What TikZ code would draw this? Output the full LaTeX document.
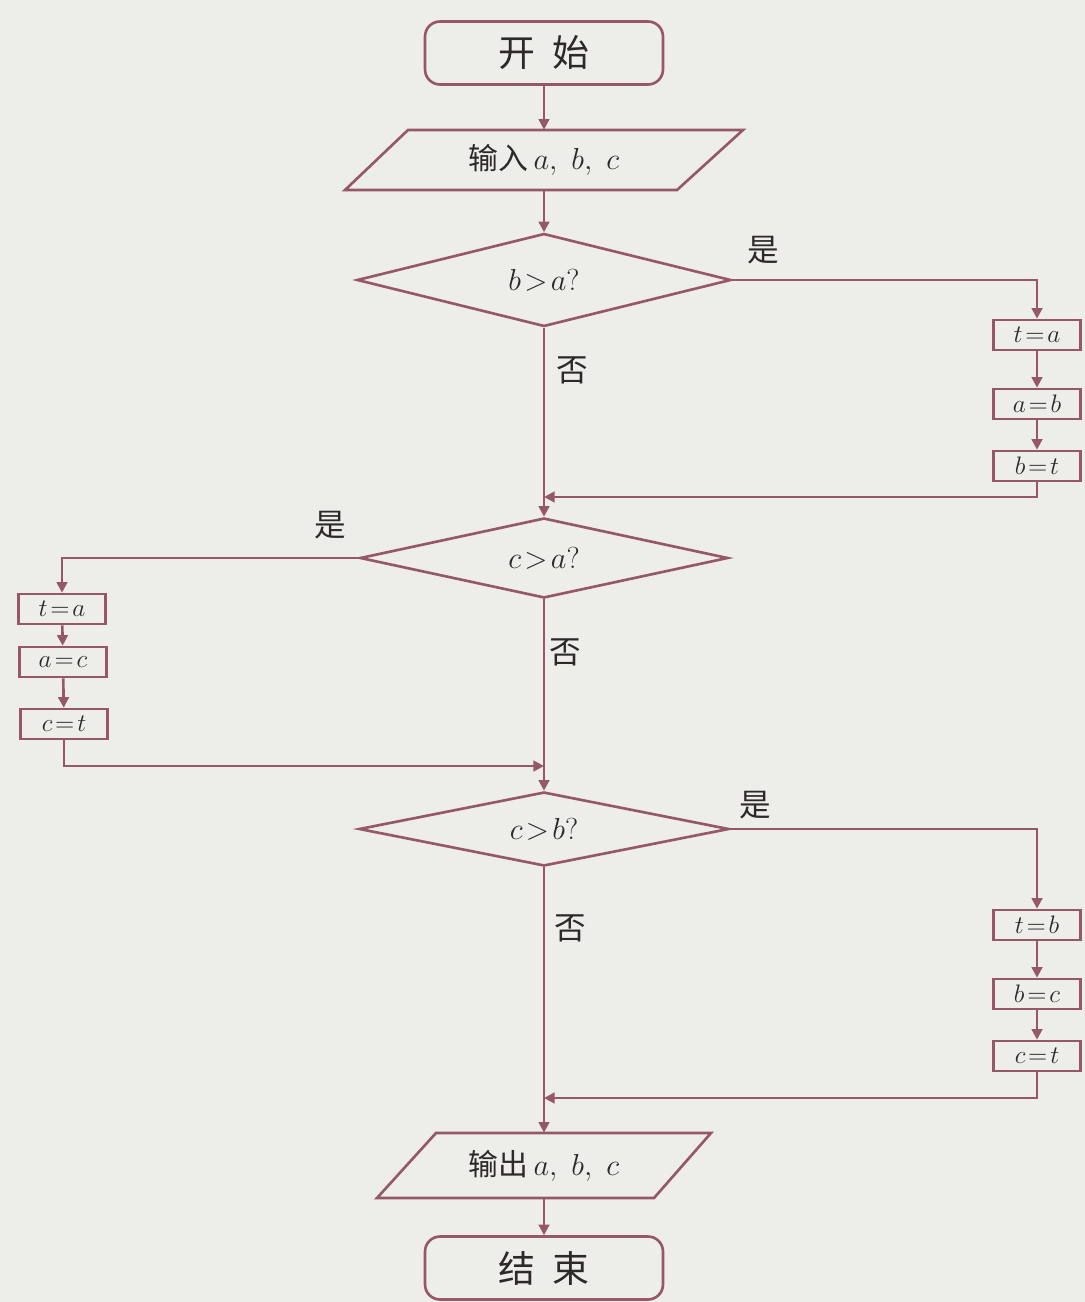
\documentclass[tikz,border=0pt]{standalone}
\usepackage{fontspec}
\newfontfamily\cjk{Noto Sans CJK SC}
\usetikzlibrary{shapes.geometric,arrows.meta}
\definecolor{ln}{RGB}{150,88,104}
\definecolor{bg}{RGB}{237,237,233}
\definecolor{tx}{RGB}{45,40,42}
\begin{document}
\begin{tikzpicture}[x=0.02cm,y=-0.02cm,
  line/.style={draw=ln, line width=1.5pt},
  arr/.style={line, -{Triangle[length=6pt,width=6pt]}},
  term/.style={line, rectangle, rounded corners=0.3cm, minimum width=4.76cm, minimum height=1.26cm, inner sep=0pt, font=\cjk\fontsize{21}{24}\selectfont, text=tx},
  io/.style={rectangle, inner sep=0pt, minimum width=4cm, font=\fontsize{17}{20}\selectfont, text=tx},
  dec/.style={line, diamond, aspect=6, inner sep=0pt, font=\fontsize{16}{18}\selectfont, text=tx},
  asg/.style={line, rectangle, minimum width=1.74cm, minimum height=0.6cm, inner sep=0pt, font=\fontsize{14}{16}\selectfont, text=tx},
  lbl/.style={font=\cjk\fontsize{18}{20}\selectfont, text=tx}
]
\fill[bg] (0,0) rectangle (1085,1302);
\useasboundingbox (0,0) rectangle (1085,1302);

% terminals
\node[term] (start) at (544,53) {开\ \ 始};
\node[term] (end) at (544,1268) {结\ \ 束};

% input / output parallelograms
\draw[line, fill=bg] (408,130) -- (743,130) -- (677,190) -- (345,190) -- cycle;
\node[io, minimum height=1.2cm] (in) at (544,160) {{\cjk 输入}\,$a,\ b,\ c$};
\draw[line, fill=bg] (436,1133) -- (711,1133) -- (654,1198) -- (377,1198) -- cycle;
\node[io, minimum height=1.3cm] (out) at (544,1165.5) {{\cjk 输出}\,$a,\ b,\ c$};

% decisions
\node[dec, minimum width=7.48cm, minimum height=1.86cm] (d1) at (544,280) {$b\!>\!a?$};
\node[dec, minimum width=7.36cm, minimum height=1.6cm] (d2) at (544,558) {$c\!>\!a?$};
\node[dec, minimum width=7.4cm, minimum height=1.48cm] (d3) at (544,829) {$c\!>\!b?$};

% assignment boxes, right column (b>a)
\node[asg] (r1) at (1037,335) {$t\!=\!a$};
\node[asg] (r2) at (1037,404) {$a\!=\!b$};
\node[asg] (r3) at (1037,466) {$b\!=\!t$};
% left column (c>a)
\node[asg] (l1) at (62,609) {$t\!=\!a$};
\node[asg] (l2) at (63,662) {$a\!=\!c$};
\node[asg] (l3) at (64,724) {$c\!=\!t$};
% right column (c>b)
\node[asg] (r4) at (1037,925) {$t\!=\!b$};
\node[asg] (r5) at (1037,994) {$b\!=\!c$};
\node[asg] (r6) at (1037,1056) {$c\!=\!t$};

% junctions
\coordinate (j1) at (544,497);
\coordinate (j2) at (544,766);
\coordinate (j3) at (544,1098);

% main flow
\draw[arr] (start.south) -- (in.north);
\draw[arr] (in.south) -- (d1.north);
\draw[arr] (d1.south) -- (d2.north);
\draw[arr] (d2.south) -- (d3.north);
\draw[arr] (d3.south) -- (out.north);
\draw[arr] (out.south) -- (end.north);

% branch 1
\draw[arr] (d1.east) -| (r1.north);
\draw[arr] (r1) -- (r2);
\draw[arr] (r2) -- (r3);
\draw[arr] (r3.south) |- (j1);

% branch 2
\draw[arr] (d2.west) -| (l1.north);
\draw[arr] (l1) -- (l2);
\draw[arr] (l2) -- (l3);
\draw[arr] (l3.south) |- (j2);

% branch 3
\draw[arr] (d3.east) -| (r4.north);
\draw[arr] (r4) -- (r5);
\draw[arr] (r5) -- (r6);
\draw[arr] (r6.south) |- (j3);

% labels
\node[lbl] (y1) at (763,250) {是};
\node[lbl] (n1) at (572,370) {否};
\node[lbl] (y2) at (330,525) {是};
\node[lbl] (n2) at (565,652) {否};
\node[lbl] (y3) at (755,805) {是};
\node[lbl] (n3) at (570,928) {否};
\end{tikzpicture}
\end{document}
